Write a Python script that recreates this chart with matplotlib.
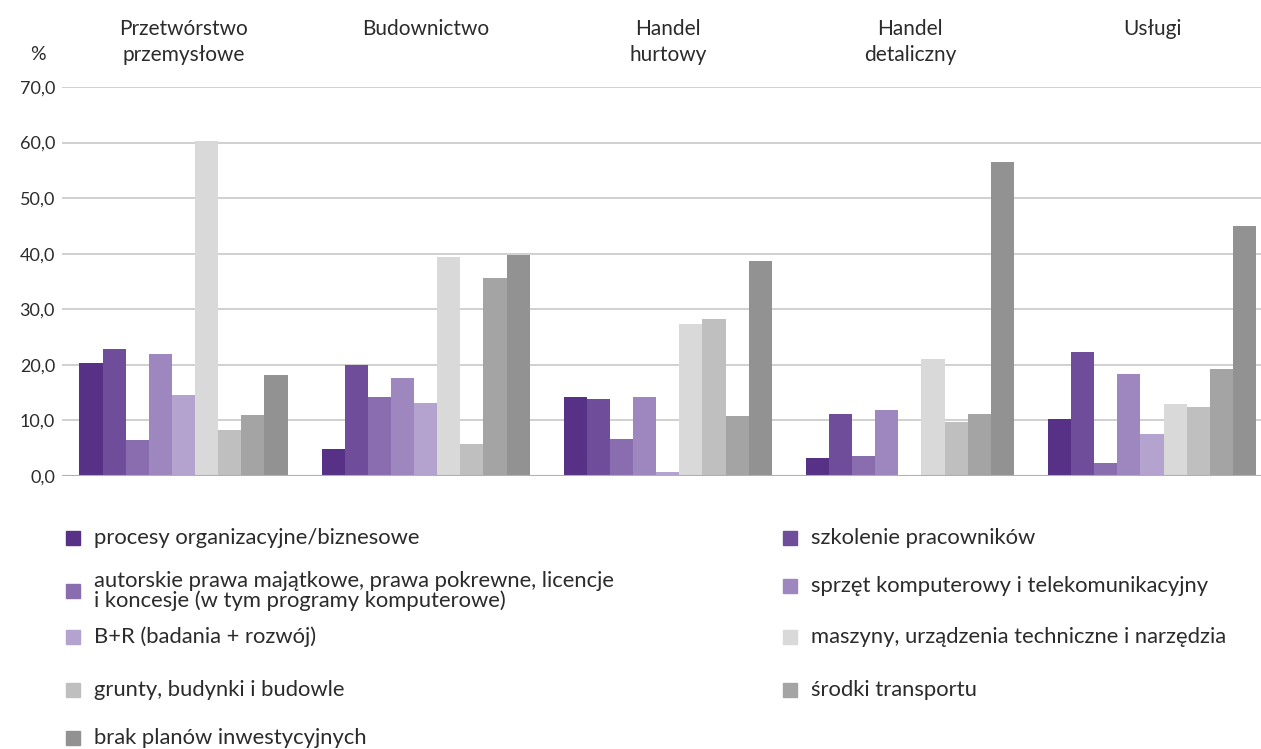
import numpy as np
import matplotlib.pyplot as plt
from matplotlib.patches import Rectangle

plt.rcParams['font.family'] = ['Lato', 'DejaVu Sans']

sectors = ["Przetwórstwo\nprzemysłowe", "Budownictwo", "Handel\nhurtowy", "Handel\ndetaliczny", "Usługi"]
series = ["procesy organizacyjne/biznesowe",
          "szkolenie pracowników",
          "autorskie prawa majątkowe, prawa pokrewne, licencje\ni koncesje (w tym programy komputerowe)",
          "sprzęt komputerowy i telekomunikacyjny",
          "B+R (badania + rozwój)",
          "maszyny, urządzenia techniczne i narzędzia",
          "grunty, budynki i budowle",
          "środki transportu",
          "brak planów inwestycyjnych"]
colors = ["#563186", "#6f4d9a", "#8a6dae", "#9e87bf", "#b4a2cf",
          "#d9d9d9", "#bfbfbf", "#a4a4a4", "#929292"]

# rows = series, columns = sectors
values = [
    [20.4, 4.9, 14.2, 3.2, 10.3],
    [22.9, 19.9, 13.9, 11.2, 22.3],
    [6.4, 14.2, 6.6, 3.6, 2.3],
    [21.9, 17.7, 14.3, 11.9, 18.3],
    [14.6, 13.2, 0.8, 0.0, 7.6],
    [60.2, 39.4, 27.4, 21.1, 12.9],
    [8.2, 5.7, 28.3, 9.7, 12.5],
    [10.9, 35.6, 10.8, 11.1, 19.2],
    [18.2, 39.7, 38.7, 56.5, 44.9],
]

fig = plt.figure(figsize=(12.61, 7.49), dpi=100)
ax = fig.add_axes([62/1261, 273/749, 1 - 62/1261, 389/749])

x = np.arange(len(sectors))
w = 0.0955
for i, vals in enumerate(values):
    ax.bar(x + (i - 4) * w, vals, w, color=colors[i], zorder=3, linewidth=0)

ax.set_ylim(0, 70)
ax.set_xlim(-0.502, 4.45)
ax.set_yticks(np.arange(0, 71, 10))
ax.set_yticklabels([f"{v:.1f}".replace(".", ",") for v in np.arange(0, 71, 10)],
                   fontsize=13, color="#2b2b2b")
ax.tick_params(axis='y', length=0, pad=5)
ax.set_xticks([])
ax.grid(axis='y', color="#c8c8c8", linewidth=1.2, zorder=0)
ax.axhline(0, color="#b0b0b0", linewidth=1.5, zorder=4)
for s in ax.spines.values():
    s.set_visible(False)

for i, name in enumerate(sectors):
    ax.text(x[i], 1 + (749 - 662 - 19) / 389, name, transform=ax.get_xaxis_transform(),
            ha='center', va='top', fontsize=15, color="#2b2b2b", linespacing=1.4)
fig.text(38/1261, 1 - 54/749, "%", ha='center', va='center', fontsize=14, color="#2b2b2b")

# legend
left_rows = [538, 591, 637, 690, 738]
right_rows = [538, 586, 637, 690]
for k, (lab, col) in enumerate(zip(series, colors)):
    if k % 2 == 0:
        xs, yy = 66, left_rows[k // 2]
    else:
        xs, yy = 783, right_rows[k // 2]
    fig.patches.append(Rectangle((xs/1261, 1 - (yy + 7)/749), 14/1261, 14/749,
                                 transform=fig.transFigure, color=col))
    fig.text((xs + 28)/1261, 1 - yy/749, lab, ha='left', va='center', fontsize=15.8,
             color="#2b2b2b", linespacing=0.95)

fig.savefig("out.png", dpi=100, facecolor="white")
